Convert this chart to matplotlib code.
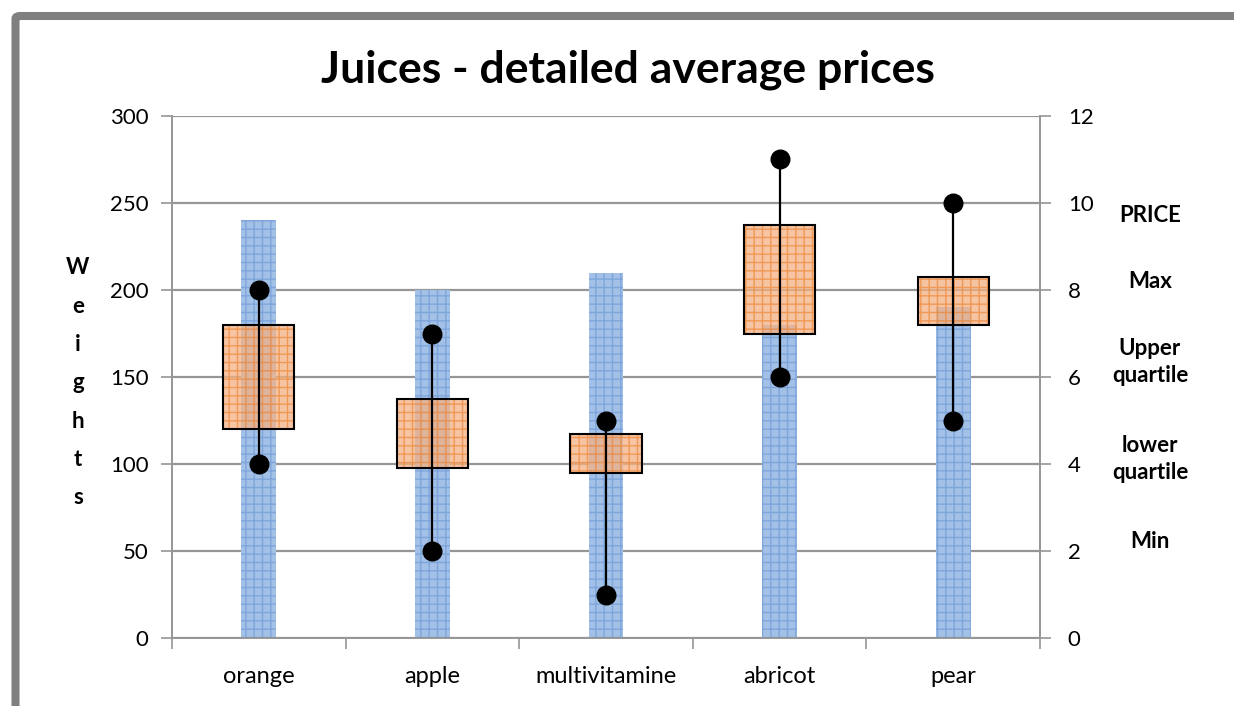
import matplotlib
matplotlib.use("Agg")
import matplotlib.pyplot as plt
from matplotlib.patches import FancyBboxPatch

plt.rcParams["font.family"] = ["Lato", "DejaVu Sans"]

# data
categories = ["orange", "apple", "multivitamine", "abricot", "pear"]
weights = [240, 200, 210, 180, 190]            # left axis
price_min = [4.0, 2.0, 1.0, 6.0, 5.0]           # right axis
price_lower_q = [4.8, 3.9, 3.8, 7.0, 7.2]
price_upper_q = [7.2, 5.5, 4.7, 9.5, 8.3]
price_max = [8.0, 7.0, 5.0, 11.0, 10.0]
legend_items = ["PRICE", "Max", "Upper\nquartile", "lower\nquartile", "Min"]

grid_c = "#969696"

fig = plt.figure(figsize=(12.34, 7.06), dpi=100)
ax = fig.add_axes([0.1394, 0.0963, 0.7034, 0.7394])
ax2 = ax.twinx()

x = list(range(len(categories)))

# weight bars (left axis)
ax.bar(x, weights, width=0.2, color="#A3C0E6", edgecolor="#7FA6DB",
       hatch="++", linewidth=0, zorder=2)
ax.set_ylim(0, 300)
ax.set_yticks(range(0, 301, 50))
ax.grid(axis="y", color=grid_c, linewidth=1.6, zorder=0)
ax.set_axisbelow(True)

# price boxes (right axis)
heights = [u - l for u, l in zip(price_upper_q, price_lower_q)]
ax2.bar(x, heights, bottom=price_lower_q, width=0.41, color="#F4B183",
        edgecolor="#EE8A3C", hatch="++", linewidth=0, alpha=0.75, zorder=3)
ax2.bar(x, heights, bottom=price_lower_q, width=0.41, fill=False,
        edgecolor="black", linewidth=1.5, zorder=4)
ax2.vlines(x, price_min, price_max, color="black", linewidth=1.6, zorder=5)
ax2.scatter(x, price_min, s=180, color="black", zorder=6)
ax2.scatter(x, price_max, s=180, color="black", zorder=6)
ax2.set_ylim(0, 12)
ax2.set_yticks(range(0, 13, 2))

ax.set_xlim(-0.5, len(categories) - 0.5)
ax.set_xticks([i - 0.5 for i in range(len(categories) + 1)])
ax.set_xticklabels([])
ax.set_xticks(x, minor=True)
ax.set_xticklabels(categories, minor=True)
ax.tick_params(axis="x", which="major", length=8, color=grid_c, width=1.2)
ax.tick_params(axis="x", which="minor", length=0, pad=20, labelsize=17)
ax.tick_params(axis="y", length=8, color=grid_c, width=1.2, pad=9, labelsize=16)
ax2.tick_params(axis="y", length=8, color=grid_c, width=1.2, pad=12, labelsize=16)

for a in (ax, ax2):
    for s in a.spines.values():
        s.set_color(grid_c)
        s.set_linewidth(1.2)
    a.spines["top"].set_visible(False)

fig.text(628 / 1234, 1 - 70 / 706, "Juices - detailed average prices",
         fontsize=32, fontweight="bold", ha="center", va="center")

# stacked y label
for i, ch in enumerate("Weights"):
    fig.text(78 / 1234, 1 - (268 + i * 38.3) / 706, ch, fontsize=16,
             fontweight="bold", ha="center", va="center")

# right-side legend text
legend_y = [215, 281, 362, 459, 541]
for txt, yp in zip(legend_items, legend_y):
    fig.text(1150 / 1234, 1 - yp / 706, txt, fontsize=16, fontweight="bold",
             ha="center", va="center", linespacing=1.3)

# outer frame
fig.patches.append(FancyBboxPatch((15.5 / 1234, -0.1), 1.2, 1 - 16 / 706 + 0.1,
                                  boxstyle="round,pad=0,rounding_size=0.004",
                                  transform=fig.transFigure, fill=False,
                                  edgecolor="#808080", linewidth=5.8))

fig.savefig("out.png", dpi=100)
plt.close(fig)
